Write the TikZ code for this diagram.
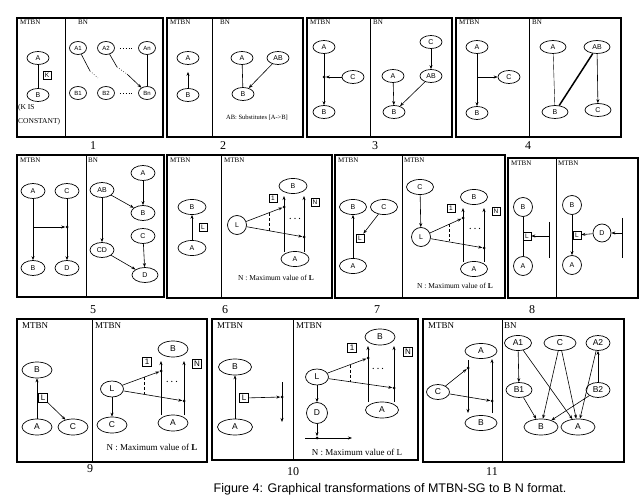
\documentclass[tikz,border=0pt]{standalone}
\usepackage{fontspec}
\setmainfont{Liberation Serif}
\newfontfamily\sansf{Liberation Sans}
\usetikzlibrary{shapes.geometric,arrows.meta}
\tikzset{
 frame/.style={line width=1.3pt},
 divider/.style={line width=1pt},
 hdr/.style={anchor=north west, inner sep=0pt, font=\fontsize{7}{8}\selectfont},
 hdrL/.style={anchor=north west, inner sep=0pt, font=\fontsize{9}{10}\selectfont},
 nd/.style={draw, line width=0.7pt, inner sep=0pt, font=\sansf\fontsize{7}{8}\selectfont},
 ell/.style={nd, ellipse, minimum width=22pt, minimum height=13pt},
 cir/.style={nd, circle, minimum size=19pt},
 lbox/.style={draw, line width=0.7pt, rectangle, minimum size=8pt, inner sep=0.6pt, font=\sansf\fontsize{6.5}{7}\selectfont},
 jd/.style={circle, fill, inner sep=0pt, minimum size=3pt},
 arr/.style={line width=0.6pt, -{Stealth[length=4pt,width=3pt]}},
 ln/.style={line width=0.6pt},
 dsh/.style={line width=0.6pt, densely dashed},
 dtl/.style={line width=0.9pt, dotted},
 num/.style={font=\fontsize{12}{12}\selectfont},
 note/.style={font=\fontsize{7.5}{8}\selectfont, inner sep=0pt},
 noteL/.style={font=\fontsize{9}{10}\selectfont, inner sep=0pt},
 dts/.style={font=\bfseries\fontsize{8}{8}\selectfont, inner sep=0pt},
 small/.style={anchor=west, inner sep=0pt, font=\fontsize{7.5}{8}\selectfont},
}
\begin{document}
\begin{tikzpicture}[x=1pt,y=-1pt]
\useasboundingbox (0,0) rectangle (640,497);

% ---------------- Panel 1
\draw[frame] (17,18) rectangle (163,137);
\draw[divider] (65,18) -- (65,137);
\node[hdr] (p1h1) at (20,20) {MTBN};
\node[hdr] (p1h2) at (78,20) {BN};
\node[ell] (p1A) at (38,58) {A};
\node[ell] (p1B) at (38,95) {B};
\draw[ln] (p1A) -- (p1B);
\node[lbox] (p1K) at (47,75) {K};
\node[small] (p1t1) at (18,108) {(K IS};
\node[small] (p1t2) at (18,122) {CONSTANT)};
\begin{scope}[nd/.append style={font=\sansf\fontsize{6}{7}\selectfont}]
\node[ell, minimum width=17pt] (p1A1) at (78,48) {A1};
\node[ell, minimum width=17pt] (p1A2) at (106,48) {A2};
\node[ell, minimum width=17pt] (p1An) at (147,48) {An};
\node[ell, minimum width=17pt] (p1B1) at (78,93) {B1};
\node[ell, minimum width=17pt] (p1B2) at (106,93) {B2};
\node[ell, minimum width=17pt] (p1Bn) at (147,93) {Bn};
\end{scope}
\draw[dtl, shorten <=5pt, shorten >=5pt] (p1A2) -- (p1An);
\draw[dtl, shorten <=5pt, shorten >=5pt] (p1B2) -- (p1Bn);
\coordinate (p1m1) at (90,71); \coordinate (p1m2) at (98,78);
\draw[ln] (p1A1) -- (p1m1); \draw[ln, dotted] (p1m1) -- (p1m2);
\coordinate (p1m3) at (117,67); \coordinate (p1m4) at (127,74);
\draw[ln] (p1A2) -- (p1m3); \draw[ln, dotted] (p1m3) -- (p1m4);
\draw[arr] (p1m4) -- (p1Bn);
\draw[ln] (p1An) -- (p1Bn);
\node[num] (p1n) at (93,146) {1};

% ---------------- Panel 2
\draw[frame] (167,18) rectangle (303,137);
\draw[divider] (212,18) -- (212,137);
\node[hdr] (p2h1) at (170,20) {MTBN};
\node[hdr] (p2h2) at (220,20) {BN};
\node[ell] (p2A) at (188,58) {A};
\node[ell] (p2B) at (188,95) {B};
\draw[arr, shorten >=7pt] (p2B) -- (p2A);
\node[ell] (p2bA) at (242,58) {A};
\node[ell] (p2AB) at (278,58) {AB};
\node[ell] (p2bB) at (243,94) {B};
\draw[ln] (p2bA) -- (p2bB);
\draw[arr] (p2AB) -- (p2bB);
\node[inner sep=0pt, font=\fontsize{6.5}{7}\selectfont] (p2t) at (257,118) {AB: Substitutes [A->B]};
\node[num] (p2n) at (223,146) {2};

% ---------------- Panel 3
\draw[frame] (307,18) rectangle (452,137);
\draw[divider] (370,18) -- (370,137);
\node[hdr] (p3h1) at (310,20) {MTBN};
\node[hdr] (p3h2) at (373,20) {BN};
\node[ell] (p3A) at (324,47) {A};
\node[ell] (p3C) at (353,77) {C};
\node[ell] (p3B) at (324,112) {B};
\node[jd] (p3j) at (324,77) {};
\draw[arr] (p3A) -- (p3B);
\draw[arr] (p3C) -- (p3j);
\node[ell] (p3bA) at (393,76) {A};
\node[ell] (p3bC) at (431,42) {C};
\node[ell] (p3AB) at (431,76) {AB};
\node[ell] (p3bB) at (394,112) {B};
\draw[arr] (p3bC) -- (p3AB);
\draw[arr] (p3bA) -- (p3bB);
\draw[arr] (p3AB) -- (p3bB);
\node[num] (p3n) at (375,146) {3};

% ---------------- Panel 4
\draw[frame] (456,18) rectangle (621,137);
\draw[divider] (529,18) -- (529,137);
\node[hdr] (p4h1) at (459,20) {MTBN};
\node[hdr] (p4h2) at (532,20) {BN};
\node[ell] (p4A) at (477,47) {A};
\node[ell] (p4C) at (509,77) {C};
\node[ell] (p4B) at (477,113) {B};
\coordinate (p4j) at (477,77);
\draw[arr] (p4A) -- (p4B);
\draw[arr] (p4j) -- (p4C);
\node[ell, minimum width=26pt] (p4bA) at (553,47) {A};
\node[ell, minimum width=26pt] (p4AB) at (597,47) {AB};
\node[ell, minimum width=26pt] (p4bB) at (555,112) {B};
\node[ell, minimum width=26pt] (p4bC) at (598,110) {C};
\draw[line width=0.4pt] (p4bA) -- (p4bB);
\draw[line width=1.5pt] (p4AB) -- (p4bB);
\draw[arr] (p4AB) -- (p4bC);
\node[num] (p4n) at (528,146) {4};

% ---------------- Panel 5
\draw[frame] (17,155) rectangle (164,297);
\draw[divider] (86,155) -- (86,297);
\node[hdr] (p5h1) at (20,158) {MTBN};
\node[hdr] (p5h2) at (88,158) {BN};
\begin{scope}[ell/.append style={minimum width=24pt, minimum height=15pt}]
\node[ell] (p5A) at (33,191) {A};
\node[ell] (p5C) at (67,191) {C};
\node[ell] (p5B) at (33,268) {B};
\node[ell] (p5D) at (67,268) {D};
\draw[arr] (p5A) -- (p5B);
\draw[arr] (p5C) -- (p5D);
\coordinate (p5k) at (33,227);
\node[jd] (p5j) at (67,227) {};
\draw[arr] (p5k) -- (p5j);
\node[ell] (p5bA) at (143,173) {A};
\node[ell] (p5AB) at (102,190) {AB};
\node[ell] (p5bB) at (143,213) {B};
\node[ell] (p5bC) at (143,236) {C};
\node[ell] (p5CD) at (102,250) {CD};
\node[ell, minimum width=26pt] (p5bD) at (145,275) {D};
\end{scope}
\draw[arr] (p5bA) -- (p5bB);
\draw[arr] (p5AB) -- (p5bB);
\draw[arr] (p5AB) -- (p5CD);
\draw[arr] (p5bC) -- (p5bD);
\draw[arr] (p5CD) -- (p5bD);
\node[num] (p5n) at (93,310) {5};

% ---------------- Panel 6
\draw[frame] (167,155) rectangle (332,298);
\draw[divider] (221,155) -- (221,298);
\node[hdr] (p6h1) at (170,158) {MTBN};
\node[hdr] (p6h2) at (224,158) {MTBN};
\begin{scope}[ell/.append style={minimum width=28pt, minimum height=15pt}]
\node[ell] (p6B) at (192,207) {B};
\node[ell] (p6A) at (192,248) {A};
\draw[arr] (p6A) -- (p6B);
\node[lbox] (p6Lb) at (203,227) {L};
\node[ell] (p6rB) at (293,186) {B};
\node[ell] (p6rA) at (295,259) {A};
\end{scope}
\node[cir] (p6L) at (237,225) {L};
\coordinate (p6v1b) at (284,252); \coordinate (p6v1t) at (284,196);
\coordinate (p6v2b) at (304,252); \coordinate (p6v2t) at (304,196);
\draw[arr] (p6v1b) -- (p6v1t);
\draw[arr] (p6v2b) -- (p6v2t);
\node[jd] (p6d1) at (284,207) {};
\node[jd] (p6d2) at (304,237) {};
\draw[arr] (p6L) -- (p6d1);
\draw[arr] (p6L) -- (p6d2);
\coordinate (p6s1) at (269,212.7); \coordinate (p6s2) at (269,230.7);
\draw[dsh] (p6s1) -- (p6s2);
\node[dts] (p6dots) at (295,219) {. . .};
\node[lbox] (p6one) at (273,198) {1};
\node[lbox] (p6N) at (315,202) {N};
\node[note] (p6note) at (276,278) {N : Maximum value of \textbf{L}};
\node[num] (p6n) at (225,310) {6};

% ---------------- Panel 7
\draw[frame] (335,155) rectangle (505,298);
\draw[divider] (402,155) -- (402,298);
\node[hdr] (p7h1) at (338,158) {MTBN};
\node[hdr] (p7h2) at (404,158) {MTBN};
\begin{scope}[ell/.append style={minimum width=27pt, minimum height=15pt}]
\node[ell] (p7B) at (353,207) {B};
\node[ell] (p7C) at (384,207) {C};
\node[ell] (p7A) at (353,266) {A};
\node[ell] (p7rC) at (420,187) {C};
\node[ell] (p7rB) at (474,197) {B};
\node[ell] (p7rA) at (474,269) {A};
\end{scope}
\node[lbox] (p7Lb) at (360,238) {L};
\draw[arr] (p7A) -- (p7B);
\draw[arr] (p7C) -- (p7Lb);
\node[cir] (p7L) at (421,237) {L};
\draw[arr] (p7rC) -- (p7L);
\coordinate (p7v1b) at (463,262); \coordinate (p7v1t) at (463,208);
\coordinate (p7v2b) at (484,262); \coordinate (p7v2t) at (484,208);
\draw[arr] (p7v1b) -- (p7v1t);
\draw[arr] (p7v2b) -- (p7v2t);
\node[jd] (p7d1) at (463,218) {};
\node[jd] (p7d2) at (484,248) {};
\draw[arr] (p7L) -- (p7d1);
\draw[arr] (p7L) -- (p7d2);
\coordinate (p7s1) at (449,224.3); \coordinate (p7s2) at (449,241.5);
\draw[dsh] (p7s1) -- (p7s2);
\node[dts] (p7dots) at (475,229) {. . .};
\node[lbox] (p7one) at (451,208) {1};
\node[lbox] (p7N) at (496,211) {N};
\node[note] (p7note) at (455,286) {N : Maximum value of \textbf{L}};
\node[num] (p7n) at (377,310) {7};

% ---------------- Panel 8
\draw[frame] (508,158) rectangle (638,298);
\draw[divider] (556,158) -- (556,298);
\node[hdr] (p8h1) at (511,161) {MTBN};
\node[hdr] (p8h2) at (558,161) {MTBN};
\node[cir] (p8B) at (523,207) {B};
\node[cir] (p8A) at (523,266) {A};
\draw[ln] (p8B) -- (p8A);
\node[lbox] (p8Lb) at (527,236) {L};
\coordinate (p8v1) at (549,222); \coordinate (p8v2) at (549,258);
\draw[ln] (p8v1) -- (p8v2);
\coordinate (p8j) at (549,236);
\draw[arr] (p8j) -- (p8Lb);
\node[cir] (p8rB) at (572,205) {B};
\node[cir] (p8rA) at (572,265) {A};
\draw[arr] (p8rB) -- (p8rA);
\node[lbox] (p8rLb) at (577,235) {L};
\node[cir, minimum size=18pt] (p8D) at (602,233) {D};
\draw[arr] (p8D) -- (p8rLb);
\coordinate (p8w1) at (622,218); \coordinate (p8w2) at (622,258);
\draw[ln] (p8w1) -- (p8w2);
\coordinate (p8k) at (622,233);
\draw[arr] (p8k) -- (p8D);
\node[num] (p8n) at (532,310) {8};

% ---------------- Row 3 (larger lettering)
\begin{scope}[nd/.append style={font=\sansf\fontsize{8.5}{9}\selectfont},
              lbox/.append style={font=\sansf\fontsize{8}{8}\selectfont, minimum size=9pt},
              cir/.append style={minimum size=21pt}]
% ---------------- Panel 9
\draw[frame] (17,319) rectangle (207,462);
\draw[divider] (92,319) -- (92,462);
\node[hdrL] (p9h1) at (22,322) {MTBN};
\node[hdrL] (p9h2) at (95,322) {MTBN};
\begin{scope}[ell/.append style={minimum width=30pt, minimum height=16pt}]
\node[ell] (p9B) at (37,370) {B};
\node[ell] (p9A) at (37,427) {A};
\node[ell] (p9C) at (73,427) {C};
\node[ell] (p9rC) at (112,425) {C};
\node[ell] (p9rB) at (173,349) {B};
\node[ell] (p9rA) at (173,423) {A};
\node[ell, minimum width=23pt] (p9L) at (112,389) {L};
\end{scope}
\draw[arr] (p9A) -- (p9B);
\node[lbox] (p9Lb) at (43,398) {L};
\draw[arr] (p9Lb) -- (p9C);
\draw[arr] (p9L) -- (p9rC);
\coordinate (p9v1b) at (161,415); \coordinate (p9v1t) at (161,361);
\coordinate (p9v2b) at (184,415); \coordinate (p9v2t) at (184,361);
\draw[arr] (p9v1b) -- (p9v1t);
\draw[arr] (p9v2b) -- (p9v2t);
\node[jd] (p9d1) at (161,371) {};
\node[jd] (p9d2) at (184,401) {};
\draw[arr] (p9L) -- (p9d1);
\draw[arr] (p9L) -- (p9d2);
\coordinate (p9s1) at (144,377.2); \coordinate (p9s2) at (144,394.3);
\draw[dsh] (p9s1) -- (p9s2);
\node[dts] (p9dots) at (172,382) {. . .};
\node[lbox] (p9one) at (147,362) {1};
\node[lbox] (p9N) at (197,364) {N};
\node[noteL] (p9note) at (152,447) {N : Maximum value of \textbf{L}};
\node[num] (p9n) at (90,469) {9};

% ---------------- Panel 10
\draw[frame] (212,319) rectangle (418,460);
\draw[divider] (293,319) -- (293,460);
\node[hdrL] (p10h1) at (217,322) {MTBN};
\node[hdrL] (p10h2) at (296,322) {MTBN};
\begin{scope}[ell/.append style={minimum width=33pt, minimum height=16pt}]
\node[ell] (p10B) at (235,367) {B};
\node[ell, minimum width=35pt] (p10A) at (235,427) {A};
\node[ell, minimum width=30pt] (p10rB) at (380,337) {B};
\node[ell] (p10rA) at (382,410) {A};
\node[ell, minimum width=23pt] (p10L) at (317,377) {L};
\end{scope}
\draw[arr] (p10A) -- (p10B);
\node[lbox] (p10Lb) at (244,398) {L};
\node[jd] (p10j) at (282,397) {};
\draw[arr] (p10Lb) -- (p10j);
\coordinate (p10v1) at (282,382); \coordinate (p10v2) at (282,422);
\draw[arr] (p10v1) -- (p10v2);
\node[cir] (p10D) at (317,413) {D};
\draw[arr] (p10L) -- (p10D);
\node[jd] (p10e) at (317,438) {};
\draw[arr] (p10D) -- (p10e);
\coordinate (p10h0) at (305,438); \coordinate (p10h9) at (352,438);
\draw[arr] (p10h0) -- (p10h9);
\coordinate (p10v1b) at (368,402); \coordinate (p10v1t) at (368,346);
\coordinate (p10v2b) at (394,402); \coordinate (p10v2t) at (394,346);
\draw[arr] (p10v1b) -- (p10v1t);
\draw[arr] (p10v2b) -- (p10v2t);
\node[jd] (p10d1) at (368,358) {};
\node[jd] (p10d2) at (394,388) {};
\draw[arr] (p10L) -- (p10d1);
\draw[arr] (p10L) -- (p10d2);
\coordinate (p10s1) at (350,364.7); \coordinate (p10s2) at (350,381.7);
\draw[dsh] (p10s1) -- (p10s2);
\node[dts] (p10dots) at (378,369) {. . .};
\node[lbox] (p10one) at (352,348) {1};
\node[lbox] (p10N) at (408,352) {N};
\node[noteL] (p10note) at (357,452) {N : Maximum value of L};
\node[num] (p10n) at (293,472) {10};

% ---------------- Panel 11
\draw[frame] (423,319) rectangle (624,462);
\draw[divider] (502,319) -- (502,462);
\node[hdrL] (p11h1) at (428,322) {MTBN};
\node[hdrL] (p11h2) at (504,322) {BN};
\begin{scope}[ell/.append style={minimum height=15pt}]
\node[ell, minimum width=32pt] (p11A) at (481,351) {A};
\node[ell, minimum width=23pt] (p11C) at (438,392) {C};
\node[ell, minimum width=32pt] (p11B) at (481,423) {B};
\node[ell, minimum width=27pt] (p11A1) at (518,343) {A1};
\node[ell, minimum width=32pt] (p11bC) at (560,343) {C};
\node[ell, minimum width=24pt] (p11A2) at (598,343) {A2};
\node[ell, minimum width=26pt] (p11B1) at (519,390) {B1};
\node[ell, minimum width=24pt] (p11B2) at (598,390) {B2};
\node[ell, minimum width=34pt, minimum height=16pt] (p11bB) at (541,427) {B};
\node[ell, minimum width=34pt, minimum height=16pt] (p11bA) at (578,427) {A};
\end{scope}
\coordinate (p11v1t) at (468,360); \coordinate (p11v1b) at (468,413);
\coordinate (p11v2b) at (492,413); \coordinate (p11v2t) at (492,359);
\draw[arr] (p11v1t) -- (p11v1b);
\draw[arr] (p11v2b) -- (p11v2t);
\node[jd] (p11d1) at (468,368) {};
\node[jd] (p11d2) at (492,401) {};
\draw[arr] (p11C) -- (p11d1);
\draw[arr] (p11C) -- (p11d2);
\draw[arr] (p11A1) -- (p11B1);
\draw[arr] (p11A1) -- (p11bA);
\draw[arr] (p11bC) -- (p11bB);
\draw[arr] (p11bC) -- (p11bA);
\draw[arr] (p11A2) -- (p11bA);
\draw[arr] (p11B2) -- (p11A2);
\draw[arr] (p11B1) -- (p11bB);
\draw[arr] (p11B2) -- (p11bB);
\node[num] (p11n) at (492,472) {11};
\end{scope}

% ---------------- Caption
\node[font=\sansf\fontsize{12.5}{13}\selectfont, inner sep=0pt] (cap) at (390,489) {Figure 4: Graphical transformations of MTBN-SG to B N format.};
\end{tikzpicture}
\end{document}
